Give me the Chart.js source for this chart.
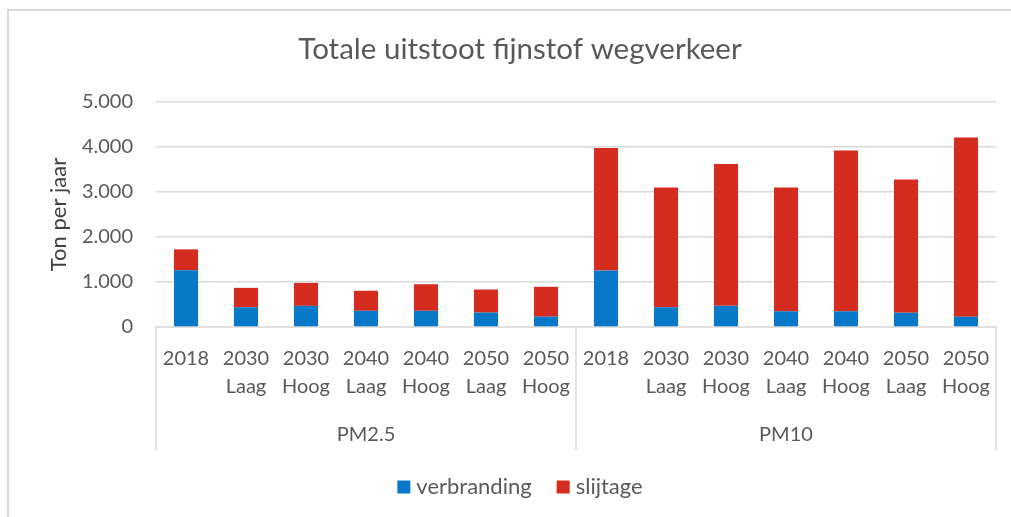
<!DOCTYPE html>
<html>
<head>
<meta charset="utf-8">
<script src="https://cdn.jsdelivr.net/npm/chart.js@4"></script>
<style>
  html, body { margin: 0; padding: 0; background: #ffffff; }
  #wrap { width: 1011px; height: 517px; position: relative; }
</style>
</head>
<body>
<div id="wrap"><canvas id="c" width="1011" height="517"></canvas></div>
<script>
const titleText = 'Totale uitstoot fijnstof wegverkeer';
const yTitle = 'Ton per jaar';
const categories = [
  ['2018'], ['2030', 'Laag'], ['2030', 'Hoog'], ['2040', 'Laag'], ['2040', 'Hoog'], ['2050', 'Laag'], ['2050', 'Hoog'],
  ['2018'], ['2030', 'Laag'], ['2030', 'Hoog'], ['2040', 'Laag'], ['2040', 'Hoog'], ['2050', 'Laag'], ['2050', 'Hoog']
];
const groups = ['PM2.5', 'PM10'];
const groupSizes = [7, 7];
const seriesNames = ['verbranding', 'slijtage'];
const verbranding = [1260, 440, 470, 360, 360, 320, 230, 1255, 440, 470, 350, 350, 317, 228];
const slijtage = [465, 430, 510, 445, 590, 513, 663, 2725, 2660, 3150, 2750, 3575, 2963, 3982];
const yTicks = [0, 1000, 2000, 3000, 4000, 5000];

const FONT = 'Lato';
const TXT = '#595959';
const GRID = '#d9d9d9';
const COLORS = ['#0779C8', '#D62B1F'];

function fmt(v) {
  const s = String(Math.round(v));
  return s.replace(/\B(?=(\d{3})+(?!\d))/g, '.');
}

const frame = {
  id: 'frame',
  beforeDraw(chart) {
    const ctx = chart.ctx;
    ctx.save();
    ctx.fillStyle = '#ffffff';
    ctx.fillRect(0, 0, chart.width, chart.height);
    ctx.strokeStyle = GRID;
    ctx.lineWidth = 2;
    ctx.beginPath();
    ctx.moveTo(8, chart.height + 5);
    ctx.lineTo(8, 10);
    ctx.lineTo(chart.width + 5, 10);
    ctx.stroke();
    ctx.restore();
  }
};

const groupAxis = {
  id: 'groupAxis',
  afterDraw(chart) {
    const ctx = chart.ctx;
    const area = chart.chartArea;
    const n = categories.length;
    const per = (area.right - area.left) / n;
    ctx.save();
    ctx.strokeStyle = GRID;
    ctx.lineWidth = 1.5;
    let idx = 0;
    const bounds = [area.left];
    groupSizes.forEach(s => { idx += s; bounds.push(area.left + per * idx); });
    ctx.beginPath();
    bounds.forEach(b => {
      ctx.moveTo(b, area.bottom);
      ctx.lineTo(b, area.bottom + 123);
    });
    ctx.stroke();
    ctx.fillStyle = TXT;
    ctx.font = '20px ' + FONT;
    ctx.textAlign = 'center';
    ctx.textBaseline = 'middle';
    groups.forEach((g, i) => {
      ctx.fillText(g, (bounds[i] + bounds[i + 1]) / 2, area.bottom + 108);
    });

    // legend
    ctx.font = '22px ' + FONT;
    const box = 13, gap = 6, between = 25;
    const widths = seriesNames.map(s => ctx.measureText(s).width);
    let total = 0;
    widths.forEach((w, i) => { total += box + gap + w + (i < widths.length - 1 ? between : 0); });
    let lx = 520 - total / 2;
    const ly = 487;
    ctx.textAlign = 'left';
    seriesNames.forEach((s, i) => {
      ctx.fillStyle = COLORS[i];
      ctx.fillRect(lx, ly - box / 2, box, box);
      ctx.fillStyle = TXT;
      ctx.fillText(s, lx + box + gap, ly);
      lx += box + gap + widths[i] + between;
    });
    ctx.restore();
  }
};

new Chart(document.getElementById('c'), {
  type: 'bar',
  data: {
    labels: categories,
    datasets: [
      { label: seriesNames[0], data: verbranding, backgroundColor: COLORS[0], barPercentage: 0.4, categoryPercentage: 1 },
      { label: seriesNames[1], data: slijtage, backgroundColor: COLORS[1], barPercentage: 0.4, categoryPercentage: 1 }
    ]
  },
  options: {
    responsive: false,
    animation: false,
    layout: { padding: { left: 44, right: 15, top: 0, bottom: 67 } },
    plugins: {
      title: {
        display: true,
        text: titleText,
        color: TXT,
        font: { family: FONT, size: 29.5, weight: 'normal' },
        padding: { top: 32, bottom: 34.6 }
      },
      legend: { display: false },
      tooltip: { enabled: false }
    },
    scales: {
      x: {
        stacked: true,
        grid: { display: false },
        border: { display: true, color: GRID, width: 1.5 },
        ticks: {
          color: TXT,
          font: { family: FONT, size: 20, lineHeight: 1.4 },
          maxRotation: 0,
          autoSkip: false,
          padding: 10
        },
        afterFit(scale) { scale.height = 123; }
      },
      y: {
        stacked: true,
        min: 0,
        max: 5000,
        afterBuildTicks(scale) { scale.ticks = yTicks.map(v => ({ value: v })); },
        grid: { color: GRID, lineWidth: 1.5, drawTicks: false },
        border: { display: false },
        ticks: {
          color: TXT,
          font: { family: FONT, size: 20 },
          padding: 23,
          callback: v => fmt(v)
        },
        title: {
          display: true,
          text: yTitle,
          color: '#404040',
          font: { family: FONT, size: 22 },
          padding: { top: 2, bottom: 3 }
        },
        afterFit(scale) { scale.width = 112; }
      }
    }
  },
  plugins: [frame, groupAxis]
});
</script>
</body>
</html>
